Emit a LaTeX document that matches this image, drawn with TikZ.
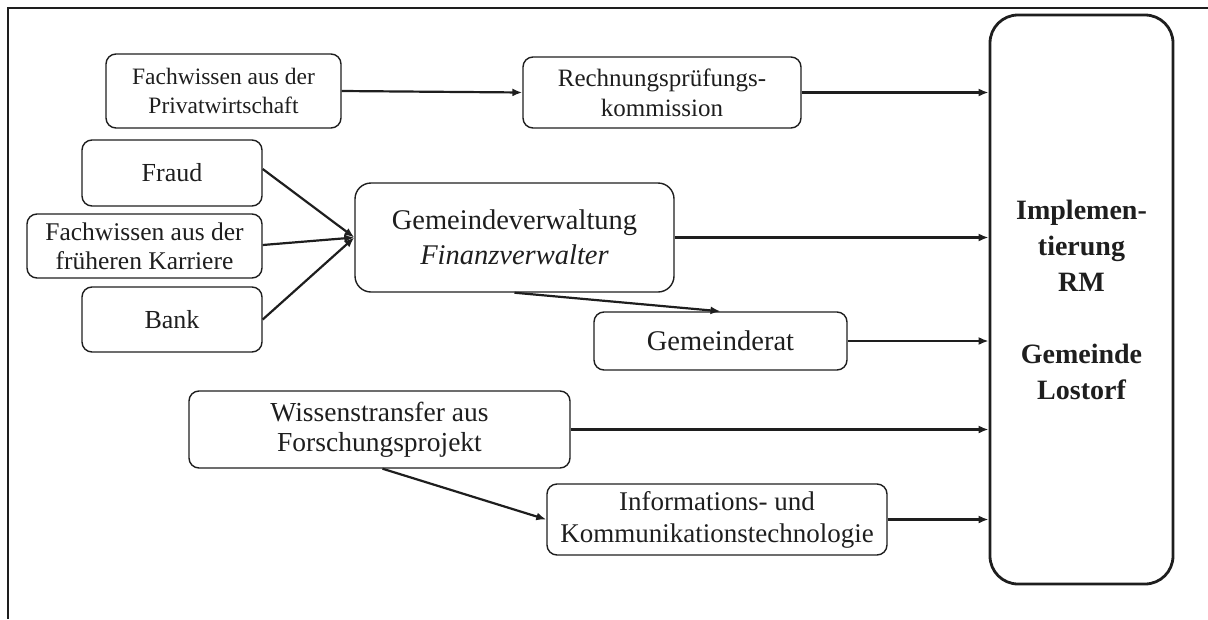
\documentclass[tikz,border=0pt]{standalone}
\usepackage{fontspec}
\setmainfont{Liberation Serif}
\usetikzlibrary{arrows.meta}
\definecolor{ink}{RGB}{30,30,30}
\newcommand{\fs}[2]{\fontsize{#1}{#2}\selectfont}
\begin{document}
\begin{tikzpicture}[x=1pt,y=-1pt,
  box/.style={draw=ink, line width=1.4pt, rounded corners=10pt, align=center,
    inner sep=0pt, text=ink},
  conn/.style={draw=ink, line width=2.2pt, -{Latex[length=10pt,width=8pt]}}]
\useasboundingbox (0,0) rectangle (1208,619);
% frame
\draw[ink, line width=2pt] (1208,8) -- (8,8) -- (8,619);

% boxes
\node[box, font=\fs{23.5}{29}, minimum width=235pt, minimum height=74pt] (privat) at (223.5,91) {Fachwissen aus der\\Privatwirtschaft};
\node[box, font=\fs{25}{30}, minimum width=278pt, minimum height=71pt] (rpk) at (662,92.5) {Rechnungsprüfungs-\\kommission};
\node[box, font=\fs{26}{30}, minimum width=180pt, minimum height=66pt] (fraud) at (172,173) {Fraud};
\node[box, font=\fs{25.5}{29}, minimum width=235pt, minimum height=64pt] (karriere) at (144.5,246) {Fachwissen aus der\\früheren Karriere};
\node[box, font=\fs{26}{30}, minimum width=180pt, minimum height=65pt] (bank) at (172,319.5) {Bank};
\node[box, font=\fs{28.5}{35}, minimum width=319pt, minimum height=109pt, rounded corners=16pt] (gv) at (514.5,237.5) {Gemeindeverwaltung\\\textit{Finanzverwalter}};
\node[box, font=\fs{28.5}{35}, minimum width=253pt, minimum height=58pt] (grat) at (720.5,341) {Gemeinderat};
\node[box, font=\fs{27.5}{30}, minimum width=381pt, minimum height=77pt] (wiss) at (379.5,429.5) {Wissenstransfer aus\\Forschungsprojekt};
\node[box, font=\fs{27}{32}, minimum width=340pt, minimum height=71pt] (iuk) at (717,519.5) {Informations- und\\Kommunikationstechnologie};
\node[box, line width=2.8pt, rounded corners=28pt, minimum width=183pt, minimum height=569pt,
  font=\fs{28}{36}\bfseries] (big) at (1081.5,299.5)
  {Implemen-\\tierung\\RM\\[36pt]Gemeinde\\Lostorf};

% connectors
\draw[conn] (privat.east) -- (rpk.west);
\draw[conn] (rpk.east) -- (rpk.east -| big.west);
\coordinate (gvin) at (gv.west);
\draw[conn] ([yshift=4pt]fraud.east) -- (gvin);
\draw[conn] ([yshift=1pt]karriere.east) -- (gvin);
\draw[conn] (bank.east) -- (gvin);
\draw[conn] (gv.east) -- (gv.east -| big.west);
\draw[conn] (gv.south) -- (grat.north);
\draw[conn] (grat.east) -- (grat.east -| big.west);
\draw[conn] (wiss.east) -- (wiss.east -| big.west);
\draw[conn] ([xshift=3pt]wiss.south) -- (iuk.west);
\draw[conn] (iuk.east) -- (iuk.east -| big.west);
\end{tikzpicture}
\end{document}
